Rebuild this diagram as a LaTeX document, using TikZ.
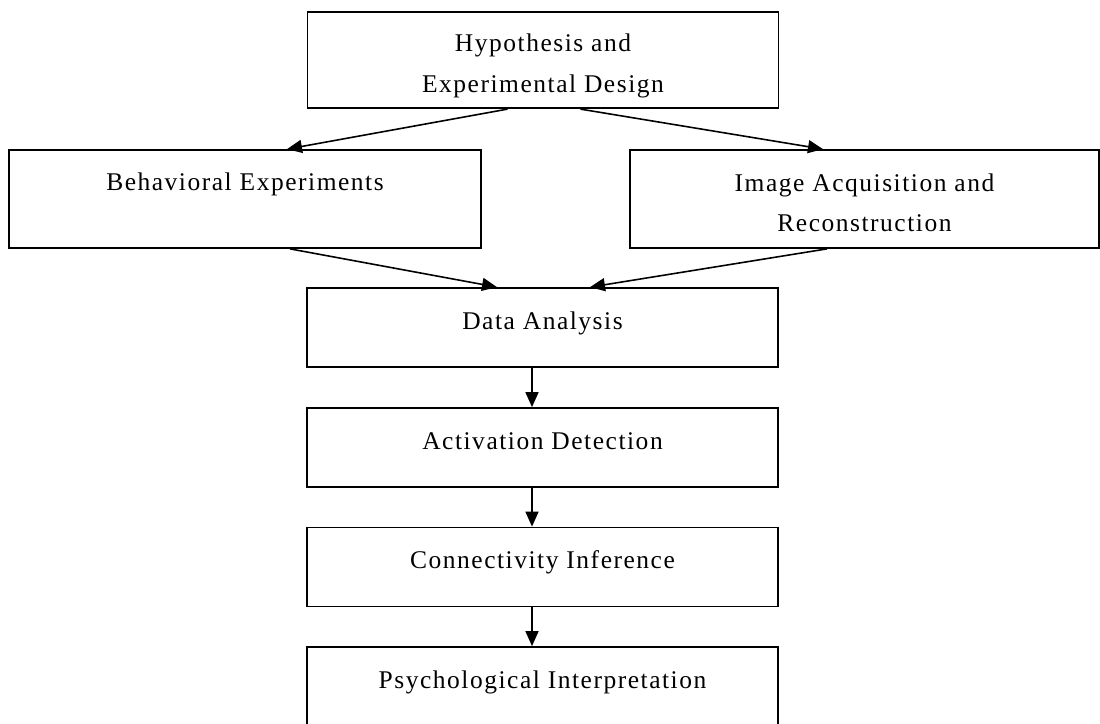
\documentclass[tikz,border=0pt]{standalone}
\usepackage{fontspec}
\setmainfont{Liberation Serif}[LetterSpace=6]
\usepackage{tikz}
\usetikzlibrary{arrows.meta,positioning}

\begin{document}
\begin{tikzpicture}[
  x=0.02cm, y=-0.02cm,
  stage/.style={draw, line width=1pt, fill=white,
                minimum width=9.42cm, minimum height=1.58cm,
                text height=0.32cm, text depth=0.26cm,
                align=center, font=\fontsize{14.5}{17}\selectfont},
  branch/.style={stage, minimum height=1.96cm},
  arr/.style={-{Triangle[length=0.3cm,width=0.26cm]}, line width=0.9pt}
]
\useasboundingbox (0,0) rectangle (1100,724);

\node[stage, minimum height=1.93cm, text height=, text depth=] (hyp) at (543,60)
  {\rule{0pt}{17pt}Hypothesis and\\[6pt]Experimental Design};
\node[branch, minimum width=9.44cm, text depth=0.68cm] (beh) at (245,199)
  {Behavioral Experiments};
\node[branch, minimum width=9.38cm, text height=, text depth=] (img) at (864.5,199)
  {\rule{0pt}{14.5pt}Image Acquisition and\\[6pt]Reconstruction};
\node[stage] (da)  at (542.5,327.5) {Data Analysis};
\node[stage] (ad)  at (542.5,447.5) {Activation Detection};
\node[stage] (ci)  at (542.5,567)   {Connectivity Inference};
\node[stage] (pi)  at (542.5,686.5) {Psychological Interpretation};

\draw[arr] ([xshift=-0.71cm]hyp.south) -- ([xshift=0.84cm]beh.north);
\draw[arr] ([xshift=0.75cm]hyp.south)  -- ([xshift=-0.83cm]img.north);
\draw[arr] ([xshift=0.9cm]beh.south)   -- ([xshift=-0.91cm]da.north);
\draw[arr] ([xshift=-0.75cm]img.south) -- ([xshift=0.95cm]da.north);
\draw[arr] ([xshift=-0.21cm]da.south)  -- ([xshift=-0.21cm]ad.north);
\draw[arr] ([xshift=-0.21cm]ad.south)  -- ([xshift=-0.21cm]ci.north);
\draw[arr] ([xshift=-0.21cm]ci.south)  -- ([xshift=-0.21cm]pi.north);
\end{tikzpicture}
\end{document}
